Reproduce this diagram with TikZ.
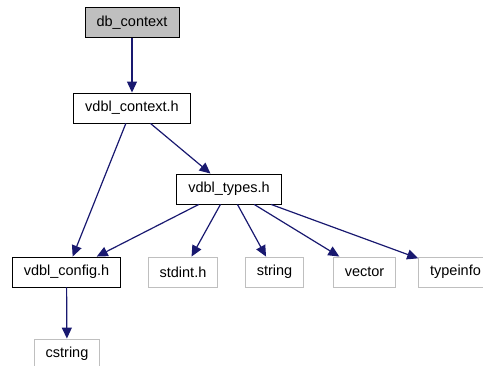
\documentclass[tikz,border=0pt]{standalone}
\usepackage{fontspec}
\setmainfont{Liberation Sans}
\usetikzlibrary{arrows.meta}

\begin{document}
\begin{tikzpicture}[x=1pt,y=-1pt]
    % Colores
    \definecolor{edgecolor}{RGB}{25,25,112}
    \definecolor{extgray}{RGB}{191,191,191}

    % Estilos
    \tikzset{
        filebox/.style={draw=black,line width=0.9pt,minimum height=30pt,inner xsep=11.5pt,
            font=\fontsize{14.5}{17}\selectfont},
        extbox/.style={filebox,draw=extgray},
        mainbox/.style={filebox,fill=extgray},
        dep/.style={edgecolor,line width=1.2pt,-{Triangle[length=11pt,width=10pt]}}
    }

    % Marco
    \useasboundingbox (0,0) rectangle (483,365);

    % Archivos
    \node[mainbox] (dbctx) at (132,22.5) {db\_context};
    \node[filebox] (vctx) at (132,108) {vdbl\_context.h};
    \node[filebox] (vtypes) at (229,189) {vdbl\_types.h};
    \node[filebox] (vconf) at (66.5,272) {vdbl\_config.h};
    \node[extbox] (stdint) at (183,272) {stdint.h};
    \node[extbox] (string) at (274.5,272) {string};
    \node[extbox] (vector) at (364.5,272) {vector};
    \node[extbox] (typeinfo) at (455.5,272) {typeinfo};
    \node[extbox] (cstring) at (67,354) {cstring};

    % Dependencias
    \draw[dep] (dbctx) -- (vctx);
    \draw[dep] (vctx) -- (vconf);
    \draw[dep] (vctx) -- (vtypes);
    \foreach \target in {vconf,stdint,string,vector,typeinfo}
    {
        \draw[dep] (vtypes) -- (\target);
    }
    \draw[dep] (vconf) -- (cstring);

\end{tikzpicture}
\end{document}
